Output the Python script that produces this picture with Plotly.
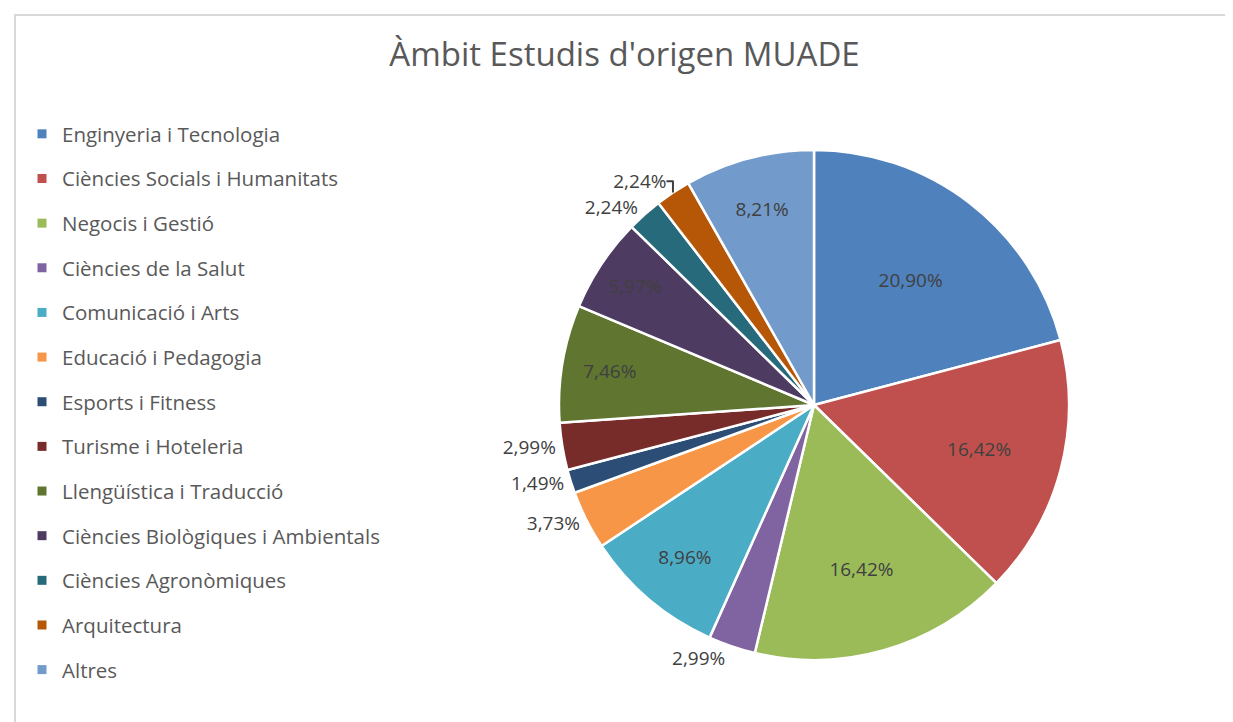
import plotly.graph_objects as go

# Data
categories = [
    "Enginyeria i Tecnologia",
    "Ciències Socials i Humanitats",
    "Negocis i Gestió",
    "Ciències de la Salut",
    "Comunicació i Arts",
    "Educació i Pedagogia",
    "Esports i Fitness",
    "Turisme i Hoteleria",
    "Llengüística i Traducció",
    "Ciències Biològiques i Ambientals",
    "Ciències Agronòmiques",
    "Arquitectura",
    "Altres",
]
percentages = [20.90, 16.42, 16.42, 2.99, 8.96, 3.73, 1.49, 2.99, 7.46, 5.97, 2.24, 2.24, 8.21]

colors = ["#4F81BD", "#C0504D", "#9BBB59", "#8064A2", "#4BACC6", "#F79646",
          "#2C4D75", "#772C2A", "#5F7530", "#4D3B62", "#276A7C", "#B65708", "#729ACA"]

# small slices get their label outside, like in the original
positions = ["inside" if p > 5 else "outside" for p in percentages]

W, H = 1233, 722
font = "'Open Sans', sans-serif"

fig = go.Figure()

fig.add_trace(go.Pie(
    labels=categories,
    values=percentages,
    sort=False,
    direction="clockwise",
    rotation=0,
    marker=dict(colors=colors, line=dict(color="white", width=2.5)),
    texttemplate="%{value:.2f}%",
    textposition=positions,
    insidetextorientation="horizontal",
    textfont=dict(size=19, color="#404040", family=font),
    showlegend=False,
    hoverinfo="label+value",
    domain=dict(x=[551 / W, 1061 / W],
                y=[1 - 652 / H, 1 - 142 / H]),
))

# legend entries as separate groups so the spacing can be set
for name, col in zip(categories, colors):
    fig.add_trace(go.Scatter(
        x=[None], y=[None], mode="markers", name=name, legendgroup=name,
        marker=dict(symbol="square", size=9, color=col),
    ))

fig.update_layout(
    width=W, height=H,
    separators=", ",
    title=dict(text="Àmbit Estudis d'origen MUADE", x=0.5, xanchor="center",
               y=1 - 46 / H, yanchor="middle",
               font=dict(size=33, color="#595959", family=font)),
    legend=dict(x=14 / W, y=1 - 106 / H, xanchor="left", yanchor="top",
                tracegroupgap=15, itemwidth=30,
                font=dict(size=20.5, color="#595959", family=font)),
    xaxis=dict(visible=False), yaxis=dict(visible=False),
    margin=dict(l=0, r=0, t=0, b=0),
    paper_bgcolor="white", plot_bgcolor="white",
    shapes=[dict(type="rect", xref="paper", yref="paper",
                 x0=7 / W, x1=1.01, y0=-0.01, y1=1 - 7 / H,
                 line=dict(color="#D9D9D9", width=2))],
)

fig.write_html("out.html")
